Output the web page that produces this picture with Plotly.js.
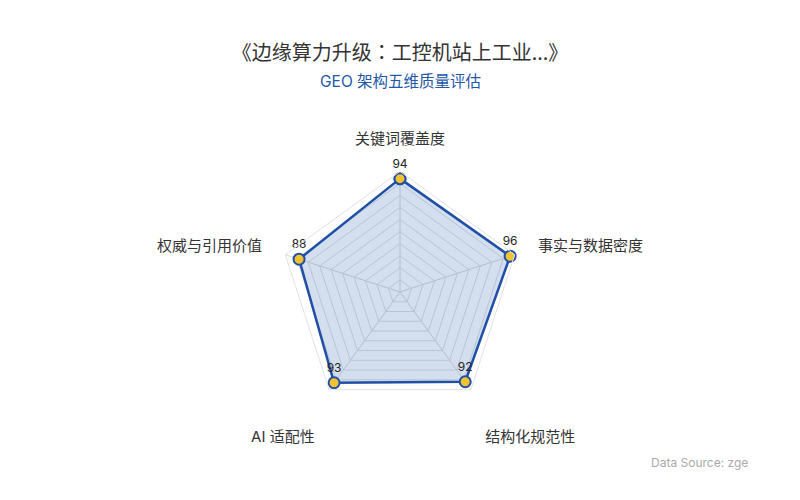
<!DOCTYPE html>
<html>
<head>
<meta charset="utf-8">
<script src="https://cdn.plot.ly/plotly-3.0.1.min.js"></script>
<style>
  html, body { margin: 0; padding: 0; background: #fff; }
  #chart { width: 800px; height: 500px; }
</style>
</head>
<body>
<div id="chart"></div>
<script>
const dimensions = ['关键词覆盖度', '事实与数据密度', '结构化规范性', 'AI 适配性', '权威与引用价值'];
const scores = [94, 96, 92, 93, 88];
// tick text shown for each dimension (bottom two sit one line lower)
const dimensionLabels = ['关键词覆盖度', '事实与数据密度', '<br>结构化规范性', '<br>AI 适配性', '权威与引用价值'];

const fontCN = '"Inter", "Noto Sans CJK SC", "Noto Sans", sans-serif';
// centred full-width colon in the title
const fontTitle = '"Noto Sans CJK JP", "Inter", sans-serif';

// close the polygon
const theta = dimensions.concat([dimensions[0]]);
const r = scores.concat([scores[0]]);
const labels = scores.map(String).concat(['']);

const trace = {
  type: 'scatterpolar',
  r: r,
  theta: theta,
  mode: 'lines+markers+text',
  text: labels,
  textposition: 'top center',
  textfont: { family: fontCN, size: 12, color: '#222' },
  fill: 'toself',
  fillcolor: 'rgba(36, 88, 170, 0.2)',
  line: { color: '#1f4fa6', width: 2.5 },
  marker: { size: 11, color: '#f2c230', line: { color: '#1f4fa6', width: 2 } },
  hoverinfo: 'skip',
  showlegend: false
};

const layout = {
  width: 800,
  height: 500,
  paper_bgcolor: '#fff',
  font: { family: fontCN, color: '#333' },
  margin: { l: 0, r: 0, t: 0, b: 0 },
  title: {
    text: '《边缘算力升级：工控机站上工业...》',
    font: { family: fontTitle, size: 20, color: '#333' },
    x: 0.5,
    xanchor: 'center',
    y: 0.895,
    yanchor: 'middle'
  },
  polar: {
    domain: { x: [0, 1], y: [0.1748, 0.6572] },
    gridshape: 'linear',
    bgcolor: 'rgba(0,0,0,0)',
    radialaxis: {
      range: [0, 100],
      dtick: 10,
      showticklabels: false,
      ticks: '',
      showline: false,
      gridcolor: '#dedede',
      gridwidth: 1
    },
    angularaxis: {
      rotation: 90,
      direction: 'clockwise',
      tickmode: 'array',
      tickvals: dimensions,
      ticktext: dimensionLabels,
      ticks: 'outside',
      ticklen: 21,
      tickcolor: 'rgba(0,0,0,0)',
      tickfont: { family: fontCN, size: 15, color: '#333' },
      gridcolor: '#d6d6d6',
      linecolor: '#e2e2e2',
      linewidth: 1
    }
  },
  annotations: [
    {
      text: 'GEO 架构五维质量评估',
      xref: 'paper', yref: 'paper',
      x: 0.5, y: 0.838,
      xanchor: 'center', yanchor: 'middle',
      showarrow: false,
      font: { family: fontCN, size: 15.5, color: '#2458a6' }
    },
    {
      text: 'Data Source: zge',
      xref: 'paper', yref: 'paper',
      x: 0.937, y: 0.076,
      xanchor: 'right', yanchor: 'middle',
      showarrow: false,
      font: { family: fontCN, size: 12, color: '#aaaaaa' }
    }
  ]
};

Plotly.newPlot('chart', [trace], layout, { displayModeBar: false, responsive: false });
</script>
</body>
</html>
